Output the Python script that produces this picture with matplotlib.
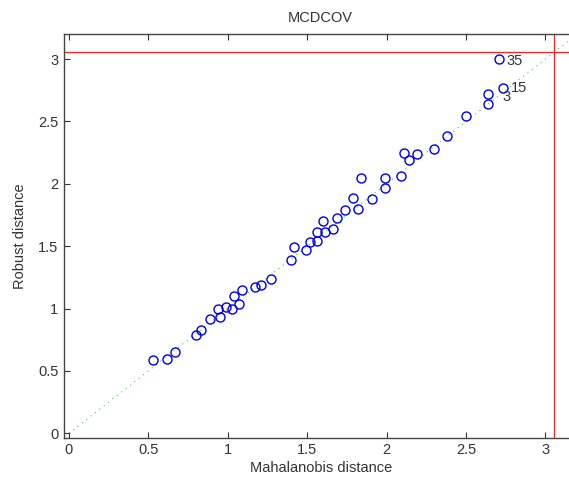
import matplotlib
matplotlib.use("Agg")
import matplotlib.pyplot as plt

# Mahalanobis vs robust distances
md = [2.71, 2.73, 2.64, 2.64, 2.50, 2.38, 2.30, 2.11, 2.19, 2.14,
      1.84, 1.99, 2.09, 1.99, 1.79, 1.91, 1.74, 1.82, 1.69,
      1.60, 1.56, 1.61, 1.66, 1.56, 1.52, 1.49, 1.42, 1.40,
      0.53, 0.62, 0.67, 0.80, 0.83, 0.89, 0.95, 0.94, 0.99, 1.03,
      1.07, 1.04, 1.09, 1.17, 1.21, 1.27]
rd = [3.00, 2.77, 2.72, 2.64, 2.54, 2.38, 2.28, 2.25, 2.24, 2.19,
      2.05, 2.05, 2.06, 1.97, 1.89, 1.88, 1.79, 1.80, 1.73,
      1.70, 1.61, 1.61, 1.64, 1.54, 1.53, 1.47, 1.49, 1.39,
      0.59, 0.60, 0.65, 0.79, 0.83, 0.92, 0.93, 1.00, 1.01, 1.00,
      1.04, 1.10, 1.15, 1.17, 1.19, 1.24]
labels = {0: "35", 1: "15", 2: "3"}
label_offsets = {0: (5, -4), 1: (6, -3), 2: (10, -5)}
cutoff = 3.055

plt.rcParams['font.family'] = ['Liberation Sans', 'DejaVu Sans']
fs = 10.5
tc = '#333333'

fig = plt.figure(figsize=(5.69, 4.8), dpi=100)
ax = fig.add_axes([0.1125, 0.088, 0.902, 0.841])

ax.plot([0, 3.4], [0, 3.4], linestyle=(0, (1, 4)), color='#44cc44', lw=0.8)
ax.plot(md, rd, 'o', mfc='none', mec='#0000dd', ms=6.5, mew=1.0)
ax.axhline(cutoff, color='#e03030', lw=1.0)
ax.axvline(cutoff, color='#e03030', lw=1.0)

for i, txt in labels.items():
    ax.annotate(txt, (md[i], rd[i]), xytext=label_offsets[i],
                textcoords='offset points', fontsize=fs, color=tc)

ax.set_xlim(-0.03, 3.2)
ax.set_ylim(-0.035, 3.2)
ax.set_xticks([0, 0.5, 1, 1.5, 2, 2.5, 3])
ax.set_xticklabels(['0', '0.5', '1', '1.5', '2', '2.5', '3'])
ax.set_yticks([0, 0.5, 1, 1.5, 2, 2.5, 3])
ax.set_yticklabels(['0', '0.5', '1', '1.5', '2', '2.5', '3'])
ax.tick_params(direction='in', top=True, right=True, length=4,
               labelsize=fs, colors=tc, pad=4)
for s in ax.spines.values():
    s.set_color('#444444')
    s.set_linewidth(1.0)

ax.set_xlabel('Mahalanobis distance', fontsize=fs, labelpad=3, color=tc)
ax.set_ylabel('Robust distance', fontsize=fs, labelpad=8, color=tc)
ax.set_title('MCDCOV', fontsize=fs, pad=9, color=tc)

fig.savefig('out.png', dpi=100)
